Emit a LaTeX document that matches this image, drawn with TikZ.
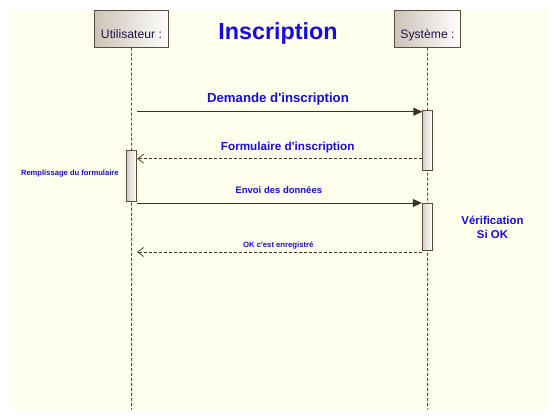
\documentclass[tikz,border=0pt]{standalone}
\usepackage{fontspec}
\setmainfont{Liberation Sans}
\usetikzlibrary{arrows.meta}
\definecolor{bgy}{RGB}{255,255,238}
\definecolor{lnc}{RGB}{60,48,40}
\definecolor{llc}{RGB}{92,74,60}
\definecolor{boxl}{RGB}{205,194,183}
\definecolor{txtb}{RGB}{25,10,225}
\definecolor{hdr}{RGB}{30,20,70}
\tikzset{
  headbox/.style={draw=llc, line width=0.9pt, left color=boxl, right color=white, minimum width=#1, minimum height=37pt, inner sep=0pt, text=hdr, font=\fontsize{12.2}{14}\selectfont},
  actbox/.style={draw=llc, line width=0.9pt, left color=boxl!80, right color=white, minimum width=10pt, minimum height=#1, inner sep=0pt},
  lifeline/.style={draw=llc, line width=0.9pt, dash pattern=on 3pt off 2pt},
  callarrow/.style={draw=lnc, line width=0.9pt, -{Triangle[length=9pt,width=8pt]}},
  retarrow/.style={draw=lnc, line width=0.9pt, dash pattern=on 3pt off 2pt, -{Straight Barb[length=6pt,width=9pt,line width=0.7pt]}},
  msg/.style={text=txtb, font=\bfseries\fontsize{#1}{#1}\selectfont, inner sep=0pt}
}
\begin{document}
\begin{tikzpicture}[x=1pt,y=-1pt]
\useasboundingbox (0,0) rectangle (558,420);
\fill[bgy] (10,10) rectangle (548,410);
% heads
\node[headbox=74.4pt] (user) at (131.5,28.8) {\raisebox{-9.5pt}[0pt][0pt]{Utilisateur :}};
\node[headbox=66.4pt] (sys) at (427.5,28.8) {\raisebox{-9.5pt}[0pt][0pt]{Système :}};
\coordinate (userend) at (131.7,410);
\coordinate (sysend) at (427.7,410);
\draw[lifeline] (user.south) -- (userend);
\draw[lifeline] (sys.south) -- (sysend);
% activations
\node[actbox=60pt] (act1) at (427.3,140.3) {};
\node[actbox=47.4pt] (act2) at (427.3,227) {};
\node[actbox=51.4pt] (act3) at (131.7,176) {};
% title
\node[msg=23.3] (title) at (278,33.5) {Inscription};
% messages
\coordinate (m1s) at (137,111.7);
\coordinate (m1e) at (422.3,111.7);
\draw[callarrow] (m1s) -- (m1e);
\node[msg=13.2] (l1) at (278,99.3) {Demande d\textquotesingle inscription};
\coordinate (m2s) at (422.3,158.7);
\draw[retarrow] (m2s) -- (act3.east |- m2s);
\node[msg=11.7] (l2) at (287.7,147.7) {Formulaire d\textquotesingle inscription};
\coordinate (m3s) at (136.7,203);
\draw[callarrow] (m3s) -- (act2.west |- m3s);
\node[msg=9.5] (l3) at (278.8,190) {Envoi des données};
\coordinate (m4s) at (422.3,252);
\coordinate (m4e) at (137,252);
\draw[retarrow] (m4s) -- (m4e);
\node[msg=7.7] (l4) at (278.3,245.3) {OK c\textquotesingle est enregistré};
% notes
\node[msg=7.6] (rem) at (69.8,173.3) {Remplissage du formulaire};
\node[msg=11.4, align=center] (verif) at (492.5,227.2) {Vérification\\[3.2pt]Si OK};
\end{tikzpicture}
\end{document}
